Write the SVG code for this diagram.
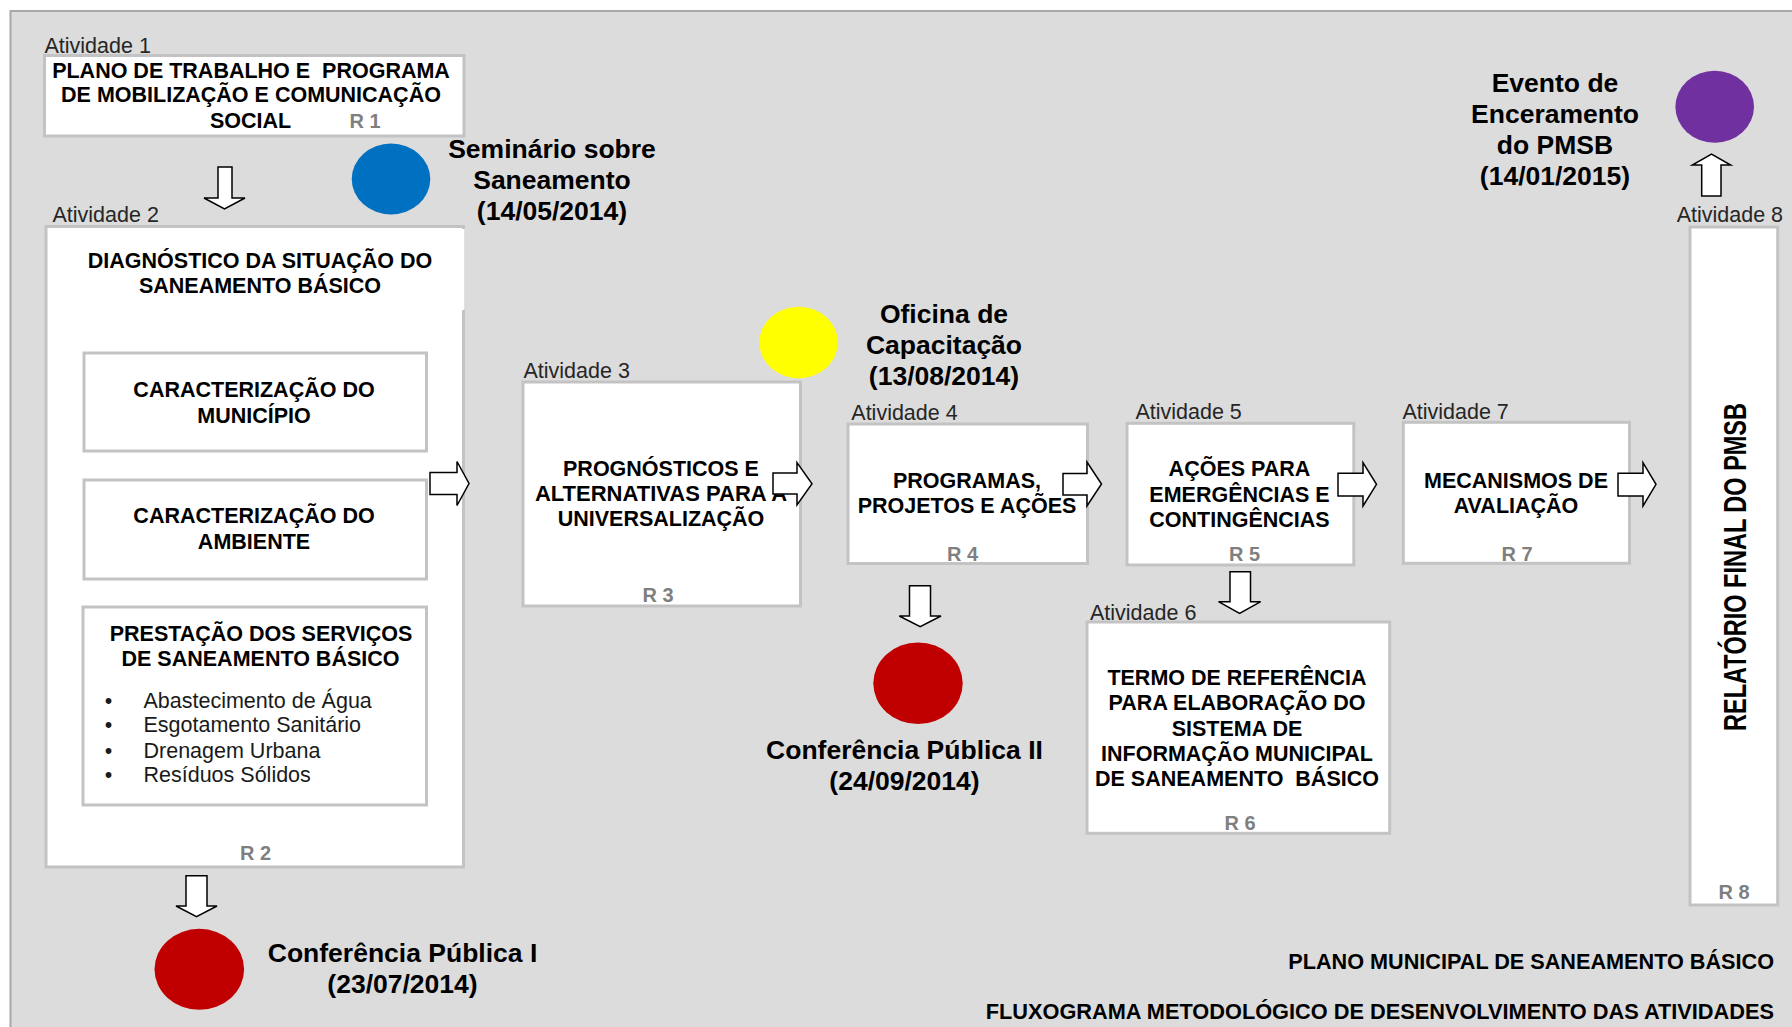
<svg xmlns="http://www.w3.org/2000/svg" width="1792" height="1027" viewBox="0 0 1792 1027">
<style>
.box{fill:#ffffff;stroke:#c3c3c3;stroke-width:3}
.act{font-family:"Liberation Sans",Arial,sans-serif;font-size:21.5px;fill:#262626}
.t{font-family:"Liberation Sans",Arial,sans-serif;font-size:21.5px;font-weight:bold;fill:#000;text-anchor:middle}
.r{font-family:"Liberation Sans",Arial,sans-serif;font-size:20px;font-weight:bold;fill:#7f7f7f;text-anchor:middle}
.ev{font-family:"Liberation Sans",Arial,sans-serif;font-size:26.5px;font-weight:bold;fill:#000;text-anchor:middle}
.bl{font-family:"Liberation Sans",Arial,sans-serif;font-size:21.5px;fill:#1a1a1a}
.arr{fill:#ffffff;stroke:#000;stroke-width:1.5;stroke-linejoin:miter}
</style>
<rect x="0" y="0" width="1792" height="1027" fill="#ffffff"/>
<rect id="background" x="10.5" y="11" width="1790" height="1030" fill="#dcdcdc" stroke="#a8a8a8" stroke-width="2"/>

<g id="atividade1">
<text class="act" x="44.5" y="53">Atividade 1</text>
<rect class="box" x="44.5" y="55.5" width="419.5" height="80.5"/>
<text class="t" x="251" y="77.5" style="white-space:pre">PLANO DE TRABALHO E  PROGRAMA</text>
<text class="t" x="251" y="102">DE MOBILIZAÇÃO E COMUNICAÇÃO</text>
<text class="t" x="250.5" y="128">SOCIAL</text>
<text class="r" x="365" y="128">R 1</text>
</g>

<g id="seminario">
<ellipse cx="391" cy="179" rx="39.3" ry="35.5" fill="#0070c0"/>
<text class="ev" x="552" y="158">Seminário sobre</text>
<text class="ev" x="552" y="189">Saneamento</text>
<text class="ev" x="552" y="219.5">(14/05/2014)</text>
</g>

<g id="atividade2">
<text class="act" x="52.5" y="222">Atividade 2</text>
<rect class="box" x="46" y="226.5" width="417.5" height="640.5"/>
<rect x="459.5" y="229" width="5" height="81" fill="#ffffff"/>
<text class="t" x="260" y="268">DIAGNÓSTICO DA SITUAÇÃO DO</text>
<text class="t" x="260" y="293">SANEAMENTO BÁSICO</text>
<g id="caract-municipio">
<rect class="box" x="84" y="353" width="342.5" height="98"/>
<text class="t" x="254" y="397">CARACTERIZAÇÃO DO</text>
<text class="t" x="254" y="422.5">MUNICÍPIO</text>
</g>
<g id="caract-ambiente">
<rect class="box" x="84" y="480" width="342.5" height="99"/>
<text class="t" x="254" y="523">CARACTERIZAÇÃO DO</text>
<text class="t" x="254" y="548.5">AMBIENTE</text>
</g>
<g id="prestacao-servicos">
<rect class="box" x="83" y="607" width="343.5" height="198"/>
<text class="t" x="261" y="641">PRESTAÇÃO DOS SERVIÇOS</text>
<text class="t" x="260.5" y="666">DE SANEAMENTO BÁSICO</text>
<text class="bl" x="108.5" y="708" text-anchor="middle">•</text>
<text class="bl" x="143.5" y="708">Abastecimento de Água</text>
<text class="bl" x="108.5" y="732" text-anchor="middle">•</text>
<text class="bl" x="143.5" y="732">Esgotamento Sanitário</text>
<text class="bl" x="108.5" y="757.5" text-anchor="middle">•</text>
<text class="bl" x="143.5" y="757.5">Drenagem Urbana</text>
<text class="bl" x="108.5" y="782" text-anchor="middle">•</text>
<text class="bl" x="143.5" y="782">Resíduos Sólidos</text>
</g>
<text class="r" x="255.5" y="860">R 2</text>
</g>

<g id="conferencia1">
<ellipse cx="199.3" cy="969.3" rx="44.8" ry="40.5" fill="#c00000"/>
<text class="ev" x="402.5" y="961.5">Conferência Pública I</text>
<text class="ev" x="402.5" y="992.5">(23/07/2014)</text>
</g>

<g id="oficina">
<ellipse cx="798.6" cy="342.5" rx="39.3" ry="35.8" fill="#ffff00"/>
<text class="ev" x="944" y="323">Oficina de</text>
<text class="ev" x="944" y="354">Capacitação</text>
<text class="ev" x="944" y="385">(13/08/2014)</text>
</g>

<g id="atividade3">
<text class="act" x="523.5" y="378.3">Atividade 3</text>
<rect class="box" x="523" y="382" width="277.5" height="224"/>
<text class="t" x="661" y="475.5">PROGNÓSTICOS E</text>
<text class="t" x="661" y="501" style="font-size:22px">ALTERNATIVAS PARA A</text>
<text class="t" x="661" y="525.5">UNIVERSALIZAÇÃO</text>
<text class="r" x="658" y="601.5">R 3</text>
</g>

<g id="atividade4">
<text class="act" x="851.3" y="420">Atividade 4</text>
<rect class="box" x="848" y="424" width="239.5" height="139.5"/>
<text class="t" x="967" y="488">PROGRAMAS,</text>
<text class="t" x="967" y="513">PROJETOS E AÇÕES</text>
<text class="r" x="962.5" y="560.5">R 4</text>
</g>

<g id="conferencia2">
<ellipse cx="918" cy="683.3" rx="44.7" ry="40.8" fill="#c00000"/>
<text class="ev" x="904.5" y="758.5">Conferência Pública II</text>
<text class="ev" x="904.5" y="790">(24/09/2014)</text>
</g>

<g id="atividade5">
<text class="act" x="1135.4" y="419.3">Atividade 5</text>
<rect class="box" x="1127" y="423.3" width="226.8" height="141.7"/>
<text class="t" x="1239.5" y="476">AÇÕES PARA</text>
<text class="t" x="1239.5" y="501.5">EMERGÊNCIAS E</text>
<text class="t" x="1239.5" y="526.5">CONTINGÊNCIAS</text>
<text class="r" x="1244.5" y="560.5">R 5</text>
</g>

<g id="atividade6">
<text class="act" x="1090" y="620">Atividade 6</text>
<rect class="box" x="1087" y="622" width="302.7" height="211.3"/>
<text class="t" x="1237" y="684.5">TERMO DE REFERÊNCIA</text>
<text class="t" x="1237" y="710">PARA ELABORAÇÃO DO</text>
<text class="t" x="1237" y="735.5">SISTEMA DE</text>
<text class="t" x="1237" y="760.5">INFORMAÇÃO MUNICIPAL</text>
<text class="t" x="1237" y="785.5" style="white-space:pre">DE SANEAMENTO  BÁSICO</text>
<text class="r" x="1240" y="830">R 6</text>
</g>

<g id="atividade7">
<text class="act" x="1402.4" y="419.3">Atividade 7</text>
<rect class="box" x="1403.3" y="422.3" width="226.2" height="141"/>
<text class="t" x="1516" y="487.5">MECANISMOS DE</text>
<text class="t" x="1516" y="512.5">AVALIAÇÃO</text>
<text class="r" x="1517" y="560.5">R 7</text>
</g>

<g id="atividade8">
<text class="act" x="1676.7" y="221.7">Atividade 8</text>
<rect class="box" x="1690" y="227" width="87.7" height="678"/>
<text class="t" transform="translate(1735,567) rotate(-90) scale(1,1.35)" x="0" y="8.4" style="font-size:23.5px">RELATÓRIO FINAL DO PMSB</text>
<text class="r" x="1734" y="899">R 8</text>
</g>

<g id="evento-encerramento">
<ellipse cx="1714.7" cy="106.7" rx="39.3" ry="36" fill="#7030a0"/>
<text class="ev" x="1555" y="91.5">Evento de</text>
<text class="ev" x="1555" y="122.5">Enceramento</text>
<text class="ev" x="1555" y="153.5">do PMSB</text>
<text class="ev" x="1555" y="184.5">(14/01/2015)</text>
</g>

<g id="titulos">
<text class="t" x="1774" y="968.5" style="text-anchor:end;font-size:21.65px">PLANO MUNICIPAL DE SANEAMENTO BÁSICO</text>
<text class="t" x="1774" y="1019" style="text-anchor:end;font-size:21.75px">FLUXOGRAMA METODOLÓGICO DE DESENVOLVIMENTO DAS ATIVIDADES</text>
</g>

<g id="connectors">
<path class="arr" d="M218,167 H232 V198 H245 L224.5,209 L204,198 H218 Z"/>
<path class="arr" d="M430,472.5 H457 V461.5 L469,483.5 L457,505.5 V494.5 H430 Z"/>
<path class="arr" d="M773,473 H797 V462.5 L812,483.7 L797,505 V494 H773 Z"/>
<path class="arr" d="M1063,473.5 H1087 V462 L1101.5,484 L1087,506 V495 H1063 Z"/>
<path class="arr" d="M1338,473.3 H1363 V462.7 L1376.5,484.3 L1363,506 V496 H1338 Z"/>
<path class="arr" d="M1618,473.3 H1643 V462.7 L1656,484.3 L1643,506 V496 H1618 Z"/>
<path class="arr" d="M186,875.7 H207 V906 H217 L196.5,916.7 L176,906 H186 Z"/>
<path class="arr" d="M909.5,585.7 H930.5 V616 H941 L920.2,626.7 L899.3,616 H909.5 Z"/>
<path class="arr" d="M1230,571.7 H1250.5 V601.7 H1260.7 L1239.6,613.3 L1218.5,601.7 H1230 Z"/>
<path class="arr" d="M1701.7,196 H1721 V165 H1730.7 L1711.5,154 L1692.3,165 H1701.7 Z"/>
</g>
</svg>
